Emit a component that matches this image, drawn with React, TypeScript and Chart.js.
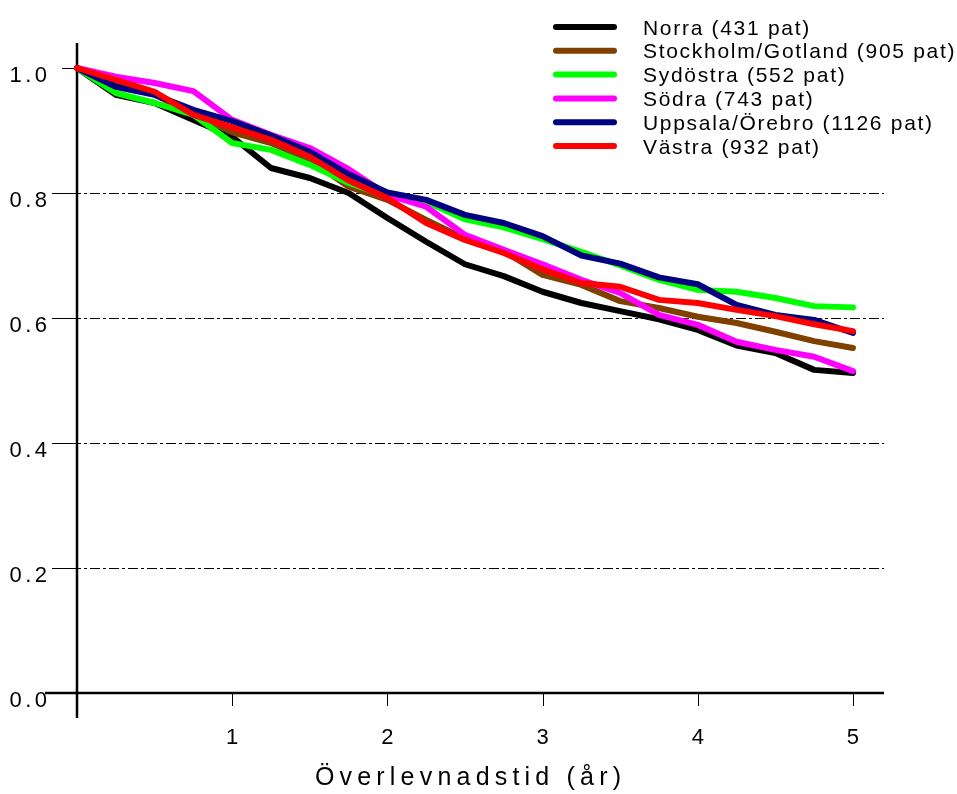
import { useEffect, useRef } from "react";
import { Chart, registerables } from "chart.js";

Chart.register(...registerables);

// Follow-up time in years (quarterly)
const years = [0, 0.25, 0.5, 0.75, 1, 1.25, 1.5, 1.75, 2, 2.25, 2.5, 2.75, 3, 3.25, 3.5, 3.75, 4, 4.25, 4.5, 4.75, 5];

// Survival proportion per region
const norra = [1.0, 0.957, 0.944, 0.917, 0.89, 0.84, 0.824, 0.8, 0.76, 0.722, 0.686, 0.667, 0.642, 0.624, 0.611, 0.598, 0.581, 0.556, 0.544, 0.517, 0.512];
const stockholm = [1.0, 0.978, 0.958, 0.925, 0.897, 0.88, 0.853, 0.81, 0.789, 0.757, 0.727, 0.707, 0.669, 0.653, 0.627, 0.616, 0.602, 0.592, 0.578, 0.563, 0.552];
const sydostra = [1.0, 0.96, 0.944, 0.925, 0.88, 0.869, 0.845, 0.816, 0.795, 0.786, 0.758, 0.745, 0.726, 0.706, 0.684, 0.661, 0.645, 0.642, 0.632, 0.619, 0.617];
const sodra = [1.0, 0.986, 0.976, 0.963, 0.917, 0.893, 0.872, 0.838, 0.797, 0.778, 0.733, 0.709, 0.686, 0.661, 0.64, 0.605, 0.589, 0.562, 0.549, 0.538, 0.515];
const uppsala = [1.0, 0.97, 0.957, 0.933, 0.915, 0.892, 0.866, 0.83, 0.801, 0.789, 0.765, 0.752, 0.731, 0.7, 0.687, 0.665, 0.654, 0.621, 0.605, 0.597, 0.576];
const vastra = [1.0, 0.981, 0.962, 0.925, 0.905, 0.885, 0.858, 0.82, 0.792, 0.752, 0.725, 0.704, 0.678, 0.656, 0.65, 0.629, 0.624, 0.613, 0.603, 0.59, 0.579];

const seriesValues = [norra, stockholm, sydostra, sodra, uppsala, vastra];
const seriesLabels = [
  "Norra (431 pat)",
  "Stockholm/Gotland (905 pat)",
  "Sydöstra (552 pat)",
  "Södra (743 pat)",
  "Uppsala/Örebro (1126 pat)",
  "Västra (932 pat)",
];
const seriesColors = ["#000000", "#804000", "#00ff00", "#ff00ff", "#000080", "#ff0000"];

const yTicks = [0, 0.2, 0.4, 0.6, 0.8, 1.0];
const yTickLabels = ["0.0", "0.2", "0.4", "0.6", "0.8", "1.0"];
const xTicks = [1, 2, 3, 4, 5];
const xTickLabels = ["1", "2", "3", "4", "5"];
const xTitle = "Överlevnadstid (år)";

const FONT_FAMILY = '"Liberation Sans", Arial, Helvetica, sans-serif';

function spacedText(
  ctx: CanvasRenderingContext2D,
  text: string,
  x: number,
  y: number,
  align: "left" | "center" | "right",
  spacing: number
) {
  ctx.save();
  (ctx as any).letterSpacing = "0px";
  const n = Array.from(text).length;
  const w = ctx.measureText(text).width + (n - 1) * spacing;
  let left = x;
  if (align === "center") left = x - w / 2;
  if (align === "right") left = x - w;
  (ctx as any).letterSpacing = spacing + "px";
  ctx.textAlign = "left";
  ctx.textBaseline = "alphabetic";
  ctx.fillText(text, left, y);
  ctx.restore();
}

const axesPlugin = {
  id: "survivalAxes",
  beforeDatasetsDraw(chart: any) {
    const ctx: CanvasRenderingContext2D = chart.ctx;
    const xs = chart.scales.x;
    const ys = chart.scales.y;
    const area = chart.chartArea;
    const x0 = xs.getPixelForValue(0);
    const y0 = ys.getPixelForValue(0);
    ctx.save();
    ctx.strokeStyle = "#000";

    // dash-dot reference lines
    ctx.lineWidth = 1;
    ctx.setLineDash([10, 3, 3, 3]);
    for (const v of yTicks) {
      if (v <= 0 || v >= 1) continue;
      const y = Math.round(ys.getPixelForValue(v)) + 0.5;
      ctx.beginPath();
      ctx.moveTo(x0 - 25, y);
      ctx.lineTo(area.right, y);
      ctx.stroke();
    }
    ctx.setLineDash([]);

    // y tick marks
    for (const v of yTicks) {
      const y = Math.round(ys.getPixelForValue(v)) + 0.5;
      ctx.beginPath();
      ctx.moveTo(x0 - 15, y);
      ctx.lineTo(x0, y);
      ctx.stroke();
    }
    // x tick marks
    for (const v of xTicks) {
      const x = Math.round(xs.getPixelForValue(v)) + 0.5;
      ctx.beginPath();
      ctx.moveTo(x, y0);
      ctx.lineTo(x, y0 + 13);
      ctx.stroke();
    }

    // axis lines
    ctx.lineWidth = 2.5;
    ctx.beginPath();
    ctx.moveTo(x0, area.top);
    ctx.lineTo(x0, y0 + 25);
    ctx.stroke();
    ctx.beginPath();
    ctx.moveTo(x0 - 32, y0);
    ctx.lineTo(area.right, y0);
    ctx.stroke();
    ctx.restore();
  },
  afterDraw(chart: any) {
    const ctx: CanvasRenderingContext2D = chart.ctx;
    const xs = chart.scales.x;
    const ys = chart.scales.y;
    const x0 = xs.getPixelForValue(0);
    const y0 = ys.getPixelForValue(0);
    ctx.save();
    ctx.fillStyle = "#000";
    ctx.font = "22px " + FONT_FAMILY;

    yTicks.forEach((v, i) => {
      spacedText(ctx, yTickLabels[i], x0 - 30, ys.getPixelForValue(v) + 14, "right", 3.5);
    });
    xTicks.forEach((v, i) => {
      spacedText(ctx, xTickLabels[i], xs.getPixelForValue(v), y0 + 51, "center", 0);
    });
    ctx.font = "25px " + FONT_FAMILY;
    spacedText(ctx, xTitle, xs.getPixelForValue(2.5) + 3, y0 + 92, "center", 5.2);

    // legend
    ctx.font = "21px " + FONT_FAMILY;
    const rowTop = 27;
    const rowStep = 23.8;
    chart.data.datasets.forEach((ds: any, i: number) => {
      const cy = rowTop + i * rowStep;
      ctx.strokeStyle = ds.borderColor;
      ctx.lineWidth = 6;
      ctx.lineCap = "round";
      ctx.beginPath();
      ctx.moveTo(556, cy);
      ctx.lineTo(614, cy);
      ctx.stroke();
      ctx.fillStyle = "#000";
      spacedText(ctx, ds.label, 643, cy + 7.5, "left", 1.7);
    });
    ctx.restore();
  },
};

export default function App() {
  const canvasRef = useRef<HTMLCanvasElement | null>(null);

  useEffect(() => {
    if (!canvasRef.current) return;
    const chart = new Chart(canvasRef.current, {
      type: "line",
      data: {
        datasets: seriesValues.map((vals, i) => ({
          label: seriesLabels[i],
          data: years.map((t, j) => ({ x: t, y: vals[j] })),
          borderColor: seriesColors[i],
          backgroundColor: seriesColors[i],
          borderWidth: 6,
          borderCapStyle: "round" as const,
          borderJoinStyle: "round" as const,
          pointRadius: 0,
          tension: 0,
          fill: false,
          clip: false as any,
          order: seriesValues.length - i,
        })),
      },
      options: {
        animation: false,
        responsive: false,
        devicePixelRatio: 1,
        layout: { padding: { left: 77, right: 73, top: 43, bottom: 101 } },
        scales: {
          x: { type: "linear", min: 0, max: 5.2, display: false },
          y: { type: "linear", min: 0, max: 1.04, display: false },
        },
        plugins: {
          legend: { display: false },
          tooltip: { enabled: false },
        },
      },
      plugins: [axesPlugin],
    });
    return () => chart.destroy();
  }, []);

  return (
    <div style={{ position: "fixed", left: 0, top: 0, width: 957, height: 794, background: "#fff" }}>
      <canvas ref={canvasRef} width={957} height={794} style={{ display: "block", width: 957, height: 794 }} />
    </div>
  );
}
